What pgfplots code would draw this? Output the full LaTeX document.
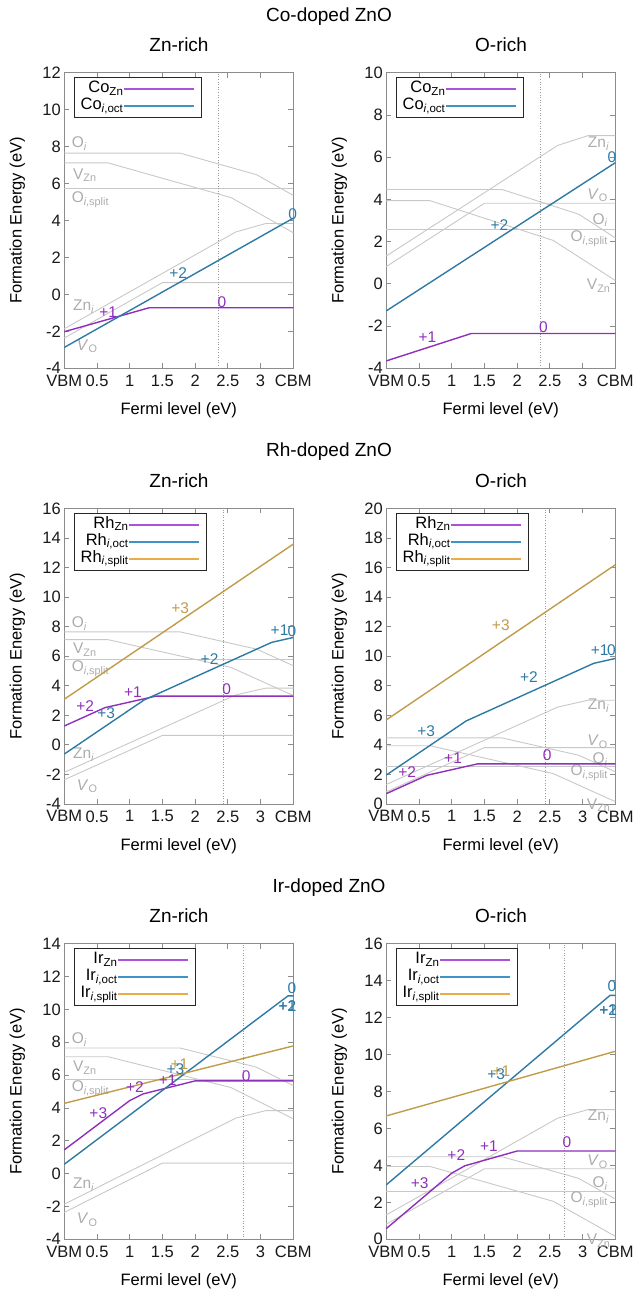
\documentclass[border=0pt]{standalone}
\usepackage{fontspec}
\setmainfont{Liberation Sans}
\usepackage{pgfplots}
\pgfplotsset{compat=1.18}
\usetikzlibrary{calc}

% line colours of the dopant series and of the native defects
\definecolor{cpur}{RGB}{142,48,186}
\definecolor{cblu}{RGB}{46,122,165}
\definecolor{cora}{RGB}{192,155,72}
\definecolor{lpur}{RGB}{172,82,218}
\definecolor{lblu}{RGB}{62,148,198}
\definecolor{lora}{RGB}{232,172,72}
\definecolor{cgry}{RGB}{200,200,200}
\definecolor{tgry}{RGB}{172,172,172}

\newcommand\fs{\fontsize{16.5}{19}\selectfont}
\newcommand\fsc{\fontsize{15.5}{18}\selectfont}
\newcommand\ft{\fontsize{19}{22}\selectfont}

\pgfplotsset{
  fe/.style={
    scale only axis, width=229pt, height=295.5pt, anchor=south west,
    xmin=0, xmax=3.5,
    xtick={0,0.5,1,1.5,2,2.5,3,3.5},
    xticklabels={VBM,0.5,1,1.5,2,2.5,3,CBM},
    ytick distance=2,
    axis line style={draw=black!45, line width=0.8pt},
    every tick/.style={draw=black!45, line width=0.8pt},
    major tick length=5pt,
    tick align=inside,
    clip=false,
    tick label style={font=\fs, text=black!90},
    xticklabel style={yshift=-3pt},
    /pgf/number format/assume math mode=true,
    xlabel={Fermi level (eV)},
    ylabel={Formation Energy (eV)},
    label style={font=\fs},
    xlabel style={at={($(axis description cs:0.5,0)+(0,-42pt)$)}, anchor=center},
    ylabel style={at={($(axis description cs:0,0.5)+(-47pt,0)$)}, anchor=center},
    legend style={at={(axis description cs:0,1)}, anchor=north west,
      xshift=10pt, yshift=-4.5pt, draw=black!85, line width=0.7pt, font=\fs,
      inner xsep=6pt, inner ysep=3pt, row sep=0pt,
      nodes={inner sep=0pt, text height=12pt, text depth=5pt},
      /tikz/every even column/.style={column sep=0pt}},
    legend cell align=right,
    legend plot pos=right,
  },
  lg/.style={line width=1.5pt,
    legend image code/.code={\path (0pt,0pt) -- (70pt,0pt);
      \draw[##1] (18pt,0pt) -- (63pt,0pt);}},
  bg/.style={cgry, line width=0.9pt, forget plot},
  dp/.style={line width=1.4pt, forget plot},
}

\newcommand\lab[4]{\node[text=#1, font=\fsc] at (axis cs:#2,#3) {#4};}
\newcommand\glab[4]{\node[text=tgry, font=\fsc, anchor=#1] at (axis cs:#2,#3) {#4};}
\newcommand\fermi[3]{\addplot[black!40, dotted, line width=0.6pt, forget plot] coordinates {(#1,#2) (#1,#3)};}

% native defects, Zn-rich limit
\newcommand\nativeZn{%
  \addplot[bg] coordinates {(0,7.65) (1.77,7.65) (2.94,6.48) (3.5,5.36)};
  \addplot[bg] coordinates {(0,7.12) (0.67,7.12) (2.55,5.24) (3.5,3.34)};
  \addplot[bg] coordinates {(0,5.75) (3.5,5.75)};
  \addplot[bg] coordinates {(0,-1.86) (2.62,3.38) (3.08,3.84) (3.5,3.84)};
  \addplot[bg] coordinates {(0,-2.36) (1.5,0.64) (3.5,0.64)};
  \glab{west}{0.06}{8.18}{O\textsubscript{\textit{i}}}
  \glab{west}{0.08}{6.45}{V\textsubscript{Zn}}
  \glab{west}{0.06}{5.15}{O\textsubscript{\textit{i},split}}
  \glab{west}{0.08}{-0.65}{Zn\textsubscript{\textit{i}}}
  \glab{west}{0.14}{-2.8}{\textit{V}\textsubscript{O}}
}
% native defects, O-rich limit
\newcommand\nativeO{%
  \addplot[bg] coordinates {(0,4.47) (1.77,4.47) (2.94,3.30) (3.5,2.18)};
  \addplot[bg] coordinates {(0,3.94) (0.67,3.94) (2.55,2.06) (3.5,0.16)};
  \addplot[bg] coordinates {(0,2.57) (3.5,2.57)};
  \addplot[bg] coordinates {(0,1.32) (2.62,6.56) (3.08,7.02) (3.5,7.02)};
  \addplot[bg] coordinates {(0,0.82) (1.5,3.82) (3.5,3.82)};
  \glab{east}{3.46}{6.65}{Zn\textsubscript{\textit{i}}}
  \glab{east}{3.44}{4.2}{\textit{V}\textsubscript{O}}
  \glab{east}{3.44}{3.02}{O\textsubscript{\textit{i}}}
  \glab{east}{3.44}{2.14}{O\textsubscript{\textit{i},split}}
  \glab{east}{3.48}{-0.08}{V\textsubscript{Zn}}
}

\begin{document}
\begin{tikzpicture}[x=1pt, y=1pt]
\useasboundingbox (0,0) rectangle (637,1296);

% ---------- Co ----------
\node[font=\ft] at (329,1279) {Co-doped ZnO};
\node[font=\ft] at (179,1251) {Zn-rich};
\node[font=\ft] at (501,1251) {O-rich};

\begin{axis}[fe, at={(64.3pt,927.7pt)}, ymin=-4, ymax=12]
  \addlegendimage{lg, draw=lpur}\addlegendentry{Co\textsubscript{Zn}}
  \addlegendimage{lg, draw=lblu}\addlegendentry{Co\textsubscript{\textit{i},oct}}
  \nativeZn
  \fermi{2.36}{-4}{12}
  \addplot[dp, cpur] coordinates {(0,-2.02) (1.3,-0.72) (3.5,-0.72)};
  \addplot[dp, cblu] coordinates {(0,-2.87) (3.5,4.13)};
  \lab{cpur}{0.67}{-0.94}{+1}
  \lab{cpur}{2.41}{-0.4}{0}
  \lab{cblu}{1.74}{1.13}{+2}
  \lab{cblu}{3.49}{4.37}{0}
\end{axis}

\begin{axis}[fe, at={(386.3pt,927.7pt)}, ymin=-4, ymax=10]
  \addlegendimage{lg, draw=lpur}\addlegendentry{Co\textsubscript{Zn}}
  \addlegendimage{lg, draw=lblu}\addlegendentry{Co\textsubscript{\textit{i},oct}}
  \nativeO
  \fermi{2.35}{-4}{10}
  \addplot[dp, cpur] coordinates {(0,-3.65) (1.3,-2.35) (3.5,-2.35)};
  \addplot[dp, cblu] coordinates {(0,-1.28) (3.5,5.74)};
  \lab{cpur}{0.63}{-2.54}{+1}
  \lab{cpur}{2.40}{-2.03}{0}
  \lab{cblu}{1.73}{2.77}{+2}
  \lab{cblu}{3.45}{6.0}{0}
\end{axis}

% ---------- Rh ----------
\node[font=\ft] at (329,844) {Rh-doped ZnO};
\node[font=\ft] at (179,815) {Zn-rich};
\node[font=\ft] at (501,815) {O-rich};

\begin{axis}[fe, at={(64.3pt,492pt)}, ymin=-4, ymax=16]
  \addlegendimage{lg, draw=lpur}\addlegendentry{Rh\textsubscript{Zn}}
  \addlegendimage{lg, draw=lblu}\addlegendentry{Rh\textsubscript{\textit{i},oct}}
  \addlegendimage{lg, draw=lora}\addlegendentry{Rh\textsubscript{\textit{i},split}}
  \nativeZn
  \fermi{2.43}{-4}{16}
  \addplot[dp, cpur] coordinates {(0,1.28) (0.62,2.52) (1.4,3.3) (3.5,3.3)};
  \addplot[dp, cblu] coordinates {(0,-0.62) (1.22,3.04) (3.17,6.94) (3.5,7.27)};
  \addplot[dp, cora] coordinates {(0,3.09) (3.5,13.59)};
  \lab{cpur}{0.32}{2.64}{+2}
  \lab{cpur}{1.05}{3.54}{+1}
  \lab{cpur}{2.48}{3.77}{0}
  \lab{cblu}{0.64}{2.14}{+3}
  \lab{cblu}{2.22}{5.8}{+2}
  \lab{cblu}{3.29}{7.74}{+1}
  \lab{cblu}{3.48}{7.7}{0}
  \lab{cora}{1.77}{9.25}{+3}
\end{axis}

\begin{axis}[fe, at={(386.3pt,492pt)}, ymin=0, ymax=20]
  \addlegendimage{lg, draw=lpur}\addlegendentry{Rh\textsubscript{Zn}}
  \addlegendimage{lg, draw=lblu}\addlegendentry{Rh\textsubscript{\textit{i},oct}}
  \addlegendimage{lg, draw=lora}\addlegendentry{Rh\textsubscript{\textit{i},split}}
  \nativeO
  \fermi{2.43}{0}{20}
  \addplot[dp, cpur] coordinates {(0,0.70) (0.62,1.94) (1.4,2.72) (3.5,2.72)};
  \addplot[dp, cblu] coordinates {(0,1.96) (1.22,5.62) (3.17,9.52) (3.5,9.85)};
  \addplot[dp, cora] coordinates {(0,5.69) (3.5,16.19)};
  \lab{cpur}{0.32}{2.19}{+2}
  \lab{cpur}{1.02}{3.09}{+1}
  \lab{cpur}{2.46}{3.32}{0}
  \lab{cblu}{0.61}{4.9}{+3}
  \lab{cblu}{2.18}{8.58}{+2}
  \lab{cblu}{3.26}{10.43}{+1}
  \lab{cblu}{3.44}{10.38}{0}
  \lab{cora}{1.75}{12.12}{+3}
\end{axis}

% ---------- Ir ----------
\node[font=\ft] at (329,408) {Ir-doped ZnO};
\node[font=\ft] at (179,380) {Zn-rich};
\node[font=\ft] at (501,380) {O-rich};

\begin{axis}[fe, at={(64.3pt,56.7pt)}, ymin=-4, ymax=14]
  \addlegendimage{lg, draw=lpur}\addlegendentry{Ir\textsubscript{Zn}}
  \addlegendimage{lg, draw=lblu}\addlegendentry{Ir\textsubscript{\textit{i},oct}}
  \addlegendimage{lg, draw=lora}\addlegendentry{Ir\textsubscript{\textit{i},split}}
  \nativeZn
  \fermi{2.73}{-4}{14}
  \addplot[dp, cpur] coordinates {(0,1.45) (1.0,4.45) (1.2,4.85) (2.0,5.65) (3.5,5.65)};
  \addplot[dp, cblu] coordinates {(0,0.57) (3.42,10.83) (3.5,10.83)};
  \addplot[dp, cora] coordinates {(0,4.28) (3.5,7.78)};
  \lab{cpur}{0.52}{3.67}{+3}
  \lab{cpur}{1.08}{5.26}{+2}
  \lab{cpur}{1.58}{5.72}{+1}
  \lab{cpur}{2.78}{5.95}{0}
  \lab{cblu}{3.48}{11.3}{0}
  \lab{cblu}{3.41}{10.22}{+2}
  \lab{cblu}{3.41}{10.22}{+1}
  \lab{cora}{1.76}{6.68}{+1}
  \lab{cblu}{1.70}{6.38}{+3}
\end{axis}

\begin{axis}[fe, at={(386.3pt,56.7pt)}, ymin=0, ymax=16]
  \addlegendimage{lg, draw=lpur}\addlegendentry{Ir\textsubscript{Zn}}
  \addlegendimage{lg, draw=lblu}\addlegendentry{Ir\textsubscript{\textit{i},oct}}
  \addlegendimage{lg, draw=lora}\addlegendentry{Ir\textsubscript{\textit{i},split}}
  \nativeO
  \fermi{2.72}{0}{16}
  \addplot[dp, cpur] coordinates {(0,0.58) (1.0,3.58) (1.2,3.98) (2.0,4.78) (3.5,4.78)};
  \addplot[dp, cblu] coordinates {(0,2.95) (3.42,13.21) (3.5,13.21)};
  \addplot[dp, cora] coordinates {(0,6.68) (3.5,10.18)};
  \lab{cpur}{0.51}{3.04}{+3}
  \lab{cpur}{1.07}{4.57}{+2}
  \lab{cpur}{1.57}{5.03}{+1}
  \lab{cpur}{2.76}{5.24}{0}
  \lab{cblu}{3.45}{13.69}{0}
  \lab{cblu}{3.39}{12.43}{+2}
  \lab{cblu}{3.39}{12.43}{+1}
  \lab{cora}{1.76}{9.09}{+1}
  \lab{cblu}{1.68}{8.96}{+3}
\end{axis}
\end{tikzpicture}
\end{document}
